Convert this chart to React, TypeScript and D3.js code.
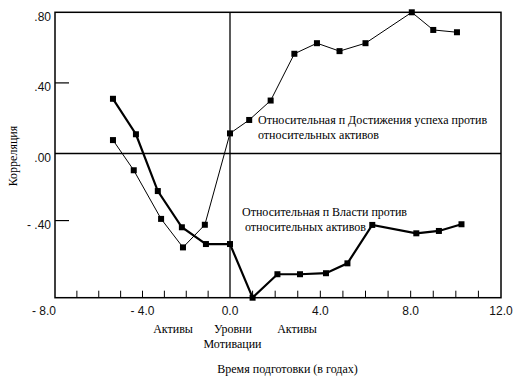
import React from "react";
import * as d3 from "d3";

const achieveX = [-5.35, -4.4, -3.15, -2.15, -1.15, 0, 0.85, 1.8, 2.85, 3.85, 4.85, 6.0, 8.05, 9.0, 10.05];
const achieveY = [0.076, -0.1, -0.39, -0.56, -0.425, 0.114, 0.19, 0.3, 0.565, 0.625, 0.58, 0.625, 0.8, 0.7, 0.687];
const powerX = [-5.35, -4.3, -3.3, -2.2, -1.1, 0, 1.0, 2.1, 3.1, 4.25, 5.2, 6.3, 8.25, 9.25, 10.25];
const powerY = [0.31, 0.109, -0.224, -0.44, -0.54, -0.54, -0.86, -0.72, -0.72, -0.714, -0.655, -0.426, -0.476, -0.462, -0.422];

const xTickValues = [-8, -4, 0, 4, 8, 12];
const xTickLabels = ["- 8.0", "- 4.0", "0.0", "4.0", "8.0", "12.0"];
const xMinorTicks = [-7, -6, -5, -4, -3, -2, -1, 1, 2, 3, 4, 5, 6, 7, 8, 9, 10, 11];
const yTickValues = [0.8, 0.4, 0, -0.4];
const yTickLabels = [".80", ".40", ".00", "- .40"];
const yMinorTicks = [0.4, -0.4];

const achieveLabel = ["Относительная п Достижения успеха против", "относительных активов"];
const powerLabel = ["Относительная п Власти против", "относительных активов"];
const axisTitleY = "Корреляция";
const axisTitleX = "Время подготовки (в годах)";

export default function App() {
  const x = d3.scaleLinear().domain([-8, 0, 12]).range([55, 230, 501]);
  const y = d3.scaleLinear().domain([-0.86, 0, 0.8]).range([297.7, 153.5, 12.3]);
  const x0 = x(-8), x1 = x(12), yT = y(0.8), yB = y(-0.86);

  const line = d3
    .line<[number, number]>()
    .x((d) => x(d[0]))
    .y((d) => y(d[1]));
  const ach: [number, number][] = achieveX.map((v, i) => [v, achieveY[i]]);
  const pow: [number, number][] = powerX.map((v, i) => [v, powerY[i]]);

  const serif = "'Liberation Serif', 'DejaVu Serif', 'Times New Roman', serif";
  const sans = "'Liberation Sans', Arial, sans-serif";
  const ms = 6;
  const st = { fontFamily: serif, fontSize: "12px" } as React.CSSProperties;

  return (
    <svg
      width={522}
      height={378}
      style={{ position: "absolute", left: 0, top: 0, background: "#fff" }}
    >
      <rect x={0} y={0} width={522} height={378} fill="#fff" />
      {/* frame */}
      <rect x={x0} y={yT} width={x1 - x0} height={yB - yT} fill="none" stroke="#000" strokeWidth={1.5} />
      {/* zero lines */}
      <line x1={x0} x2={x1} y1={y(0)} y2={y(0)} stroke="#000" strokeWidth={1.3} />
      <line x1={x(0)} x2={x(0)} y1={yT} y2={yB} stroke="#000" strokeWidth={1.3} />
      {/* minor ticks */}
      {xMinorTicks.map((v) => (
        <line key={"xm" + v} x1={x(v)} x2={x(v)} y1={yB} y2={yB - 7} stroke="#000" strokeWidth={1} />
      ))}
      {yMinorTicks.map((v) => (
        <line key={"ym" + v} x1={x0} x2={x0 + 14} y1={y(v)} y2={y(v)} stroke="#000" strokeWidth={1.2} />
      ))}
      {/* tick labels */}
      {xTickValues.map((v, i) => (
        <text
          key={"xl" + v}
          x={i === 0 ? x(v) + 1 : x(v)}
          y={315}
          textAnchor={i === 0 ? "end" : "middle"}
          style={{ fontFamily: sans, fontSize: "12px" }}
          fill="#111"
        >
          {xTickLabels[i]}
        </text>
      ))}
      {yTickValues.map((v, i) => (
        <text
          key={"yl" + v}
          x={51}
          y={y(v) + 8.5}
          textAnchor="end"
          style={{ fontFamily: sans, fontSize: "12px" }}
          fill="#111"
        >
          {yTickLabels[i]}
        </text>
      ))}
      {/* series */}
      <path d={line(ach) || ""} fill="none" stroke="#000" strokeWidth={1} />
      <path d={line(pow) || ""} fill="none" stroke="#000" strokeWidth={2.2} />
      {ach.map((d, i) => (
        <rect key={"a" + i} x={x(d[0]) - ms / 2} y={y(d[1]) - ms / 2} width={ms} height={ms} fill="#000" />
      ))}
      {pow.map((d, i) => (
        <rect key={"p" + i} x={x(d[0]) - ms / 2} y={y(d[1]) - ms / 2} width={ms} height={ms} fill="#000" />
      ))}
      {/* annotations */}
      <g fill="#000">
        <text style={st} x={258} y={124}>{achieveLabel[0]}</text>
        <text style={st} x={258} y={139}>{achieveLabel[1]}</text>
        <text style={st} x={242} y={216}>{powerLabel[0]}</text>
        <text style={st} x={245} y={231}>{powerLabel[1]}</text>
        <text style={st} x={173} y={333} textAnchor="middle">Активы</text>
        <text style={st} x={233} y={333} textAnchor="middle">Уровни</text>
        <text style={st} x={232.5} y={348} textAnchor="middle">Мотивации</text>
        <text style={st} x={297} y={333} textAnchor="middle">Активы</text>
        <text style={st} x={287.5} y={373} textAnchor="middle">{axisTitleX}</text>
        <text style={st} transform="translate(17,156) rotate(-90)" textAnchor="middle">{axisTitleY}</text>
      </g>
    </svg>
  );
}
